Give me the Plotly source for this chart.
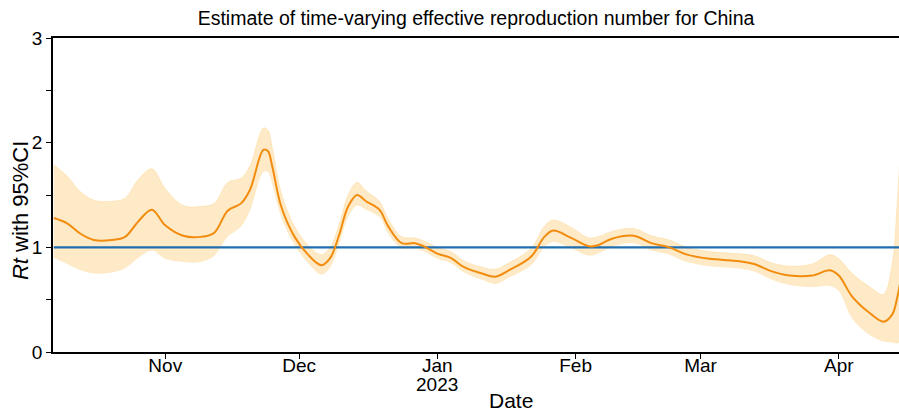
import plotly.graph_objects as go

dates = ["2022-10-07", "2022-10-10", "2022-10-13", "2022-10-16", "2022-10-20", "2022-10-23",
         "2022-10-26", "2022-10-29", "2022-11-01", "2022-11-05", "2022-11-09", "2022-11-12",
         "2022-11-15", "2022-11-18", "2022-11-20", "2022-11-23", "2022-11-24", "2022-11-25",
         "2022-11-27", "2022-11-30", "2022-12-03", "2022-12-06", "2022-12-08", "2022-12-10",
         "2022-12-12", "2022-12-14", "2022-12-16", "2022-12-19", "2022-12-21", "2022-12-24",
         "2022-12-27", "2022-12-29", "2023-01-01", "2023-01-04", "2023-01-07", "2023-01-11",
         "2023-01-14", "2023-01-17", "2023-01-22", "2023-01-25", "2023-01-27", "2023-01-31",
         "2023-02-04", "2023-02-06", "2023-02-09", "2023-02-14", "2023-02-18", "2023-02-22",
         "2023-02-26", "2023-03-03", "2023-03-09", "2023-03-13", "2023-03-17", "2023-03-21",
         "2023-03-26", "2023-03-30", "2023-04-01", "2023-04-04", "2023-04-08", "2023-04-11",
         "2023-04-13", "2023-04-14", "2023-04-15"]

rt_mean = [1.28, 1.23, 1.13, 1.07, 1.07, 1.10,
           1.25, 1.36, 1.21, 1.11, 1.10, 1.14,
           1.35, 1.42, 1.55, 1.93, 1.92, 1.77,
           1.39, 1.10, 0.93, 0.83, 0.90, 1.12,
           1.39, 1.50, 1.44, 1.36, 1.20, 1.04,
           1.04, 1.01, 0.94, 0.90, 0.81, 0.75,
           0.72, 0.78, 0.91, 1.10, 1.16, 1.09,
           1.01, 1.02, 1.08, 1.11, 1.04, 1.00,
           0.93, 0.89, 0.87, 0.84, 0.77, 0.73,
           0.73, 0.78, 0.73, 0.53, 0.37, 0.29,
           0.36, 0.50, 0.72]

rt_lower = [0.90, 0.84, 0.78, 0.75, 0.76, 0.80,
            0.90, 0.97, 0.89, 0.86, 0.86, 0.92,
            1.10, 1.20, 1.35, 1.72, 1.72, 1.60,
            1.29, 1.02, 0.85, 0.74, 0.81, 1.03,
            1.29, 1.40, 1.36, 1.29, 1.13, 0.99,
            0.99, 0.96, 0.89, 0.85, 0.76, 0.69,
            0.65, 0.71, 0.83, 1.00, 1.05, 0.99,
            0.92, 0.94, 1.00, 1.04, 0.97, 0.93,
            0.86, 0.82, 0.80, 0.77, 0.69, 0.64,
            0.62, 0.63, 0.58, 0.32, 0.16, 0.10,
            0.09, 0.08, 0.10]

rt_upper = [1.79, 1.68, 1.53, 1.45, 1.44, 1.47,
            1.65, 1.75, 1.56, 1.40, 1.39, 1.42,
            1.62, 1.66, 1.78, 2.14, 2.12, 1.95,
            1.52, 1.20, 1.02, 0.93, 1.00, 1.22,
            1.50, 1.62, 1.54, 1.44, 1.27, 1.10,
            1.09, 1.06, 1.00, 0.96, 0.87, 0.81,
            0.79, 0.85, 0.99, 1.20, 1.26, 1.19,
            1.09, 1.10, 1.15, 1.18, 1.11, 1.07,
            1.00, 0.96, 0.94, 0.92, 0.85, 0.82,
            0.84, 0.93, 0.89, 0.75, 0.62, 0.55,
            0.85, 1.35, 2.10]

reference_level = 1
x_tick_vals = ["2022-11-01", "2022-12-01", "2023-01-01", "2023-02-01", "2023-03-01", "2023-04-01"]
x_tick_text = ["Nov", "Dec", "Jan", "Feb", "Mar", "Apr"]
year_label = "2023"
year_label_date = "2023-01-01"
y_tick_vals = [0, 0.5, 1, 1.5, 2, 2.5, 3]
y_tick_text = ["0", "", "1", "", "2", "", "3"]

FONT = "Liberation Sans, Arial, sans-serif"

fig = go.Figure()
fig.add_trace(go.Scatter(x=dates, y=rt_lower, mode="lines", line=dict(width=0, shape="spline"),
                         hoverinfo="skip", showlegend=False))
fig.add_trace(go.Scatter(x=dates, y=rt_upper, mode="lines", line=dict(width=0.8, color="rgba(252,215,150,0.6)", shape="spline"),
                         fill="tonexty", fillcolor="rgba(253,226,176,0.72)",
                         hoverinfo="skip", showlegend=False))
fig.add_trace(go.Scatter(x=[dates[0], dates[-1]], y=[reference_level, reference_level], mode="lines",
                         line=dict(color="#1f6fb0", width=2.2), showlegend=False))
fig.add_trace(go.Scatter(x=dates, y=rt_mean, mode="lines",
                         line=dict(color="#f28c0f", width=2, shape="spline"), showlegend=False))

fig.update_layout(
    width=899, height=412,
    margin=dict(l=53, r=0, t=38, b=60, autoexpand=False),
    paper_bgcolor="white", plot_bgcolor="white",
    font=dict(family=FONT, color="black"),
    title=dict(text="Estimate of time-varying effective reproduction number for China",
               x=0.5, xref="paper", xanchor="center", y=1 - 18 / 412, yref="container", yanchor="middle",
               font=dict(size=19.5, family=FONT, color="black")),
    annotations=[
        dict(text=year_label, xref="x", yref="paper", x=year_label_date, y=-0.105,
             xanchor="center", yanchor="middle",
             showarrow=False, font=dict(size=19, family=FONT, color="black")),
        dict(text="Date", xref="paper", yref="paper", x=0.541, y=-0.153, xanchor="center", yanchor="middle",
             showarrow=False, font=dict(size=21, family=FONT, color="black")),
        dict(text="<i>Rt</i> with 95%CI", xref="paper", yref="paper", x=-0.039, y=0.449,
             xanchor="center", yanchor="middle", textangle=-90,
             showarrow=False, font=dict(size=22, family=FONT, color="black")),
    ],
)
fig.update_xaxes(
    range=["2022-10-06 20:00", "2023-04-14 12:00"],
    tickvals=x_tick_vals, ticktext=x_tick_text,
    ticks="outside", ticklen=5, tickwidth=1, tickcolor="black",
    showline=True, linecolor="black", linewidth=1.5, mirror=True,
    showgrid=False, zeroline=False, automargin=False,
    ticklabelstandoff=-10,
    tickfont=dict(size=19, family=FONT),
)
fig.update_yaxes(
    range=[0, 3],
    tickvals=y_tick_vals, ticktext=y_tick_text,
    ticks="outside", ticklen=5, tickwidth=1, tickcolor="black",
    showline=True, linecolor="black", linewidth=1.5,
    showgrid=False, zeroline=False, automargin=False,
    tickfont=dict(size=19, family=FONT),
)

fig.write_html("out.html",
               config={"displayModeBar": False},
               post_script="document.body.style.margin='0';document.body.style.overflow='hidden';")
